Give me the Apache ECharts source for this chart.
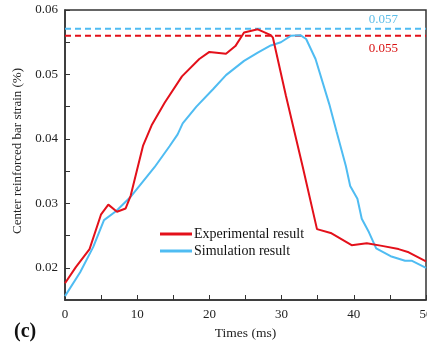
<!DOCTYPE html>
<html><head><meta charset="utf-8">
<script src="https://cdn.jsdelivr.net/npm/echarts@6/dist/echarts.min.js"></script>
<style>html,body{margin:0;padding:0;background:#fff}#c{width:427px;height:345px}</style>
</head><body><div id="c"></div>
<script>
const expTime   = [0, 1.5, 3.4, 5.0, 6.0, 7.2, 8.4, 9.1, 10.0, 10.8, 12.0, 13.8, 16.2, 18.6, 20.0, 22.3, 23.6, 24.8, 26.7, 28.5, 28.8, 30.6, 32.9, 34.9, 36.8, 39.7, 41.8, 43.9, 46.2, 47.6, 50];
const expStrain = [0.0176, 0.0201, 0.0229, 0.0283, 0.0298, 0.0287, 0.0292, 0.0312, 0.0353, 0.0389, 0.0421, 0.0456, 0.0497, 0.0524, 0.0535, 0.0532, 0.0544, 0.0565, 0.0570, 0.0561, 0.0557, 0.0467, 0.0358, 0.0260, 0.0254, 0.0235, 0.0238, 0.0234, 0.0229, 0.0224, 0.0210];
const simTime   = [0, 2.1, 3.9, 5.4, 7.1, 9.0, 12.4, 14.5, 15.6, 16.3, 18.2, 20.5, 22.3, 24.8, 26.7, 28.5, 29.9, 31.3, 32.6, 33.4, 34.7, 36.6, 37.6, 38.9, 39.5, 40.5, 41.1, 42.1, 43.1, 45.1, 47.1, 48.0, 50];
const simStrain = [0.0156, 0.0193, 0.0232, 0.0274, 0.0288, 0.0309, 0.0356, 0.0389, 0.0407, 0.0424, 0.0450, 0.0477, 0.0499, 0.0521, 0.0534, 0.0545, 0.0550, 0.0560, 0.0561, 0.0555, 0.0524, 0.0454, 0.0412, 0.0358, 0.0327, 0.0307, 0.0276, 0.0255, 0.0230, 0.0218, 0.0211, 0.0211, 0.0200];
const seriesNames = ['Experimental result', 'Simulation result'];
const peakSpan = [0, 50];
const peakSim = 0.0571;
const peakExp = 0.0560;
const peakLabels = ['0.057', '0.055'];
const peakLabelTime = 44.1;
const xTicks = [0, 5, 10, 15, 20, 25, 30, 35, 40, 45, 50];
const xLabels = [0, 10, 20, 30, 40, 50];
const yTicks = [0.02, 0.025, 0.03, 0.035, 0.04, 0.045, 0.05, 0.055, 0.06];
const yLabels = [0.02, 0.03, 0.04, 0.05, 0.06];

const RED = '#e3101a', BLUE = '#4fbcf2';
const FONT = '"Liberation Serif", "Times New Roman", serif';
const zip = (a, b) => a.map((v, i) => [v, b[i]]);

function peakSeries(name, value, color) {
  return {
    name: name, type: 'line', symbol: 'none', silent: true, z: 1,
    lineStyle: {color: color, type: [6, 4], width: 2},
    data: zip(peakSpan, [value, value])
  };
}

const chart = echarts.init(document.getElementById('c'), null, {renderer: 'canvas'});
chart.setOption({
  animation: false,
  backgroundColor: '#fff',
  textStyle: {fontFamily: FONT},
  grid: {left: 65, top: 10, right: 1, bottom: 45, outerBoundsMode: 'none', containLabel: false,
    show: true, borderColor: '#333', borderWidth: 1.5},
  legend: {
    left: 155, top: 222, orient: 'vertical', itemGap: 3,
    itemWidth: 32, itemHeight: 3, icon: 'rect',
    textStyle: {fontFamily: FONT, fontSize: 14, color: '#111', padding: [0, 0, 0, -3]},
    data: seriesNames
  },
  xAxis: {
    type: 'value', min: 0, max: 50,
    name: 'Times (ms)', nameLocation: 'middle', nameGap: 26,
    nameTextStyle: {fontFamily: FONT, fontSize: 13.5, color: '#222'},
    axisLine: {lineStyle: {color: '#333', width: 1.5}},
    axisTick: {inside: true, length: 5, customValues: xTicks, lineStyle: {color: '#333'}},
    axisLabel: {customValues: xLabels, fontFamily: FONT, fontSize: 13, color: '#222', margin: 8},
    splitLine: {show: false}
  },
  yAxis: {
    type: 'value', min: 0.015, max: 0.06,
    name: 'Center reinforced bar strain (%)', nameLocation: 'middle', nameGap: 41,
    nameTextStyle: {fontFamily: FONT, fontSize: 13, color: '#222', padding: [0, 0, 0, 8]},
    axisLine: {show: true, lineStyle: {color: '#333', width: 1.5}},
    axisTick: {show: true, inside: true, length: 5, customValues: yTicks, lineStyle: {color: '#333'}},
    axisLabel: {customValues: yLabels, fontFamily: FONT, fontSize: 13, color: '#222', margin: 7,
      formatter: v => v.toFixed(2)},
    splitLine: {show: false}
  },
  series: [
    {
      name: seriesNames[0], type: 'line', data: zip(expTime, expStrain), symbol: 'none',
      lineStyle: {color: RED, width: 2}, itemStyle: {color: RED}, z: 3
    },
    {
      name: seriesNames[1], type: 'line', data: zip(simTime, simStrain), symbol: 'none',
      lineStyle: {color: BLUE, width: 2}, itemStyle: {color: BLUE}, z: 2
    },
    peakSeries('peakSim', peakSim, BLUE),
    peakSeries('peakExp', peakExp, RED)
  ]
});

const pSim = chart.convertToPixel({gridIndex: 0}, [peakLabelTime, peakSim]);
const pExp = chart.convertToPixel({gridIndex: 0}, [peakLabelTime, peakExp]);
chart.setOption({
  graphic: [
    {type: 'text', x: pSim[0], y: pSim[1] - 3,
     style: {text: peakLabels[0], fontFamily: FONT, fontSize: 13, fill: '#5cbde8',
       align: 'center', verticalAlign: 'bottom'}},
    {type: 'text', x: pExp[0], y: pExp[1] + 6,
     style: {text: peakLabels[1], fontFamily: FONT, fontSize: 13, fill: '#d81010',
       align: 'center', verticalAlign: 'top'}},
    {type: 'text', left: 14, top: 322,
     style: {text: '(c)', fontFamily: FONT, fontSize: 20, fontWeight: 'bold', fill: '#111'}}
  ]
});
</script></body></html>
